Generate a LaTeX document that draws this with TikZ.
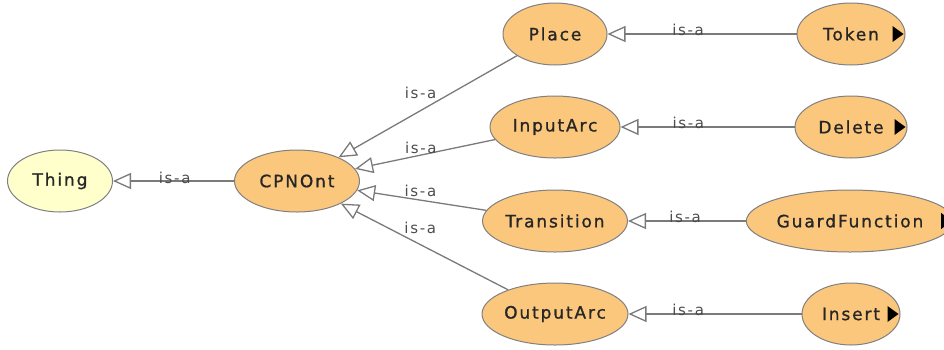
\documentclass[tikz,border=0pt]{standalone}
\usepackage{fontspec}
\setmainfont{DejaVu Sans}[LetterSpace=11,FakeBold=1]
\newfontfamily\isafont{DejaVu Sans}[LetterSpace=11]
\usetikzlibrary{arrows.meta,shapes.geometric}
\definecolor{classfill}{HTML}{FBC77D}
\definecolor{thingfill}{HTML}{FFFFCC}
\definecolor{edgegray}{HTML}{7A7A7A}
\definecolor{labelgray}{HTML}{4D4D4D}
\tikzset{
  cls/.style={ellipse, draw=gray, line width=1pt, fill=classfill,
    inner sep=0pt, minimum height=62pt, text=black!85,
    font=\fontsize{17}{19}\selectfont},
  isa/.style={-{Triangle[open,length=18pt,width=16pt]}, draw=edgegray,
    line width=1.3pt},
  lbl/.style={font=\isafont\fontsize{15}{17}\selectfont, text=labelgray,
    inner sep=1pt}
}
% small black marker for classes that have subclasses
\newcommand{\moremark}[1]{\fill[black] ([xshift=-2pt]#1.east) -- ++(-11,-8) -- ++(0,16) -- cycle;}

\begin{document}
\begin{tikzpicture}[x=1pt,y=-1pt]
  \useasboundingbox (0,0) rectangle (944,349);

  \node[cls, fill=thingfill, minimum width=105pt] (thing) at (60,181) {Thing};
  \node[cls, minimum width=125pt] (cpnont) at (297,181) {CPNOnt};

  \node[cls, minimum width=104pt] (place) at (555,34) {Place};
  \node[cls, minimum width=130pt] (inputarc) at (555,127) {InputArc};
  \node[cls, minimum width=145pt] (transition) at (555,221) {Transition};
  \node[cls, minimum width=146pt] (outputarc) at (555,314) {OutputArc};

  \node[cls, minimum width=108pt] (token) at (851,34) {Token};
  \node[cls, minimum width=112pt] (delete) at (851,127) {Delete};
  \node[cls, minimum width=196pt] (guard) at (850,221) {GuardFunction};
  \node[cls, minimum width=98pt] (insert) at (851,314) {Insert};

  \draw[isa] (cpnont) -- node[lbl, pos=0.49, yshift=3pt]{is-a} (thing); %% CPNOnt -> Thing

  \draw[isa] (place) -- node[lbl, pos=0.54, above=10pt]{is-a} (cpnont);
  \draw[isa] (inputarc) -- node[lbl, pos=0.53, above=0pt]{is-a} (cpnont);
  \draw[isa] (transition) -- node[lbl, pos=0.51, above=2pt]{is-a} (cpnont);
  \draw[isa] (outputarc) -- node[lbl, pos=0.525, above=9pt]{is-a} (cpnont);

  \draw[isa] (token) -- node[lbl, pos=0.574, yshift=4pt]{is-a} (place); %% Token -> Place
  \draw[isa] (delete) -- node[lbl, pos=0.61, yshift=4pt]{is-a} (inputarc);
  \draw[isa] (guard) -- node[lbl, pos=0.516, yshift=4pt]{is-a} (transition);
  \draw[isa] (insert) -- node[lbl, pos=0.655, yshift=4pt]{is-a} (outputarc);

  \moremark{token}
  \moremark{delete}
  \moremark{guard}
  \moremark{insert}

\end{tikzpicture}
\end{document}
